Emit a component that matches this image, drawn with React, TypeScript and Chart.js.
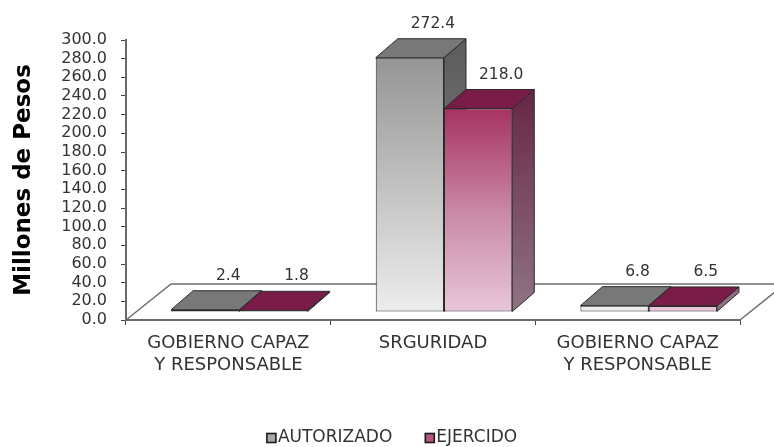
import React, { useEffect, useRef } from 'react';
import { Chart, registerables } from 'chart.js';

Chart.register(...registerables);

// ---------- data ----------
const categories: (string | string[])[] = [
  ['GOBIERNO CAPAZ', 'Y RESPONSABLE'],
  'SRGURIDAD',
  ['GOBIERNO CAPAZ', 'Y RESPONSABLE'],
];
const seriesNames = ['AUTORIZADO', 'EJERCIDO'];
const autorizado = [2.4, 272.4, 6.8];
const ejercido = [1.8, 218.0, 6.5];
const yMin = 0;
const yMax = 300;
const yStep = 20;
const yTitle = 'Millones de Pesos';

// ---------- styles ----------
const FONT = "'DejaVu Sans', sans-serif";
const TEXT = '#333333';
const SHIFT = { x: 11, y: -8 }; // bars set back on the floor
const DEPTH = { x: 22, y: -19 }; // bar depth
const FLOOR = { x: 45, y: -36 }; // floor depth
const LABEL_DX = 23;
const LABEL_DY = -15;

type Pal = { front: [number, string][]; side: [string, string]; top: string; legend: string };
const palettes: Pal[] = [
  {
    front: [[0, '#8c8c8c'], [1, '#ededed']],
    side: ['#5a5a5a', '#8e8e8e'],
    top: '#787878',
    legend: '#a8a8a8',
  },
  {
    front: [[0, '#951c4e'], [0.28, '#a83464'], [0.65, '#c98aa8'], [1, '#e9c6da']],
    side: ['#5c1236', '#8f7484'],
    top: '#7a1c48',
    legend: '#b4567f',
  },
];

function vGrad(chart: Chart, stops: [number, string][]) {
  const a = chart.chartArea;
  const g = chart.ctx.createLinearGradient(0, a.top, 0, a.bottom);
  stops.forEach(([o, c]) => g.addColorStop(o, c));
  return g;
}

const threeD = {
  id: 'threeD',
  beforeDatasetsDraw(chart: any) {
    const ctx: CanvasRenderingContext2D = chart.ctx;
    const y0 = chart.scales.y.getPixelForValue(0);
    const { left, right } = chart.chartArea;
    // floor outline
    ctx.save();
    ctx.beginPath();
    ctx.moveTo(left, y0);
    ctx.lineTo(left + FLOOR.x, y0 + FLOOR.y);
    ctx.lineTo(right + FLOOR.x, y0 + FLOOR.y);
    ctx.lineTo(right, y0);
    ctx.strokeStyle = '#707070';
    ctx.lineWidth = 1.6;
    ctx.stroke();
    ctx.restore();

    ctx.save();
    ctx.translate(SHIFT.x, SHIFT.y);
    chart.data.datasets.forEach((_ds: any, di: number) => {
      const meta = chart.getDatasetMeta(di);
      const pal = palettes[di];
      meta.data.forEach((bar: any) => {
        const { x, y, base, width } = bar.getProps(['x', 'y', 'base', 'width'], true);
        const l = x - width / 2;
        const r = x + width / 2;
        ctx.lineWidth = 1;
        ctx.strokeStyle = '#2a2a2a';
        ctx.lineJoin = 'round';
        // side
        const sg = ctx.createLinearGradient(0, chart.chartArea.top, 0, chart.chartArea.bottom);
        sg.addColorStop(0, pal.side[0]);
        sg.addColorStop(1, pal.side[1]);
        ctx.beginPath();
        ctx.moveTo(r, y);
        ctx.lineTo(r + DEPTH.x, y + DEPTH.y);
        ctx.lineTo(r + DEPTH.x, base + DEPTH.y);
        ctx.lineTo(r, base);
        ctx.closePath();
        ctx.fillStyle = sg;
        ctx.fill();
        ctx.stroke();
        // top
        ctx.beginPath();
        ctx.moveTo(l, y);
        ctx.lineTo(r, y);
        ctx.lineTo(r + DEPTH.x, y + DEPTH.y);
        ctx.lineTo(l + DEPTH.x, y + DEPTH.y);
        ctx.closePath();
        ctx.fillStyle = pal.top;
        ctx.fill();
        ctx.stroke();
      });
    });
    // keep translation while the library draws the front faces
  },
  afterDatasetsDraw(chart: any) {
    const ctx: CanvasRenderingContext2D = chart.ctx;
    ctx.restore();
    ctx.save();
    ctx.font = `15.5px ${FONT}`;
    ctx.fillStyle = TEXT;
    ctx.textAlign = 'center';
    ctx.textBaseline = 'middle';
    chart.data.datasets.forEach((ds: any, di: number) => {
      const meta = chart.getDatasetMeta(di);
      meta.data.forEach((bar: any, i: number) => {
        const { x, y } = bar.getProps(['x', 'y'], true);
        ctx.fillText(
          Number(ds.data[i]).toFixed(1),
          x + SHIFT.x + LABEL_DX,
          y + SHIFT.y + DEPTH.y + LABEL_DY
        );
      });
    });
    ctx.restore();
  },
  afterDraw(chart: any) {
    // legend
    const ctx: CanvasRenderingContext2D = chart.ctx;
    ctx.save();
    ctx.font = `17px ${FONT}`;
    ctx.textBaseline = 'middle';
    ctx.textAlign = 'left';
    const box = 9;
    const gap = 2;
    const between = 33;
    const items = chart.data.datasets.map((ds: any) => ds.label as string);
    const widths = items.map((t: string) => box + gap + ctx.measureText(t).width);
    const total = widths.reduce((a: number, b: number) => a + b, 0) + between * (items.length - 1);
    let x = (chart.width - total) / 2 + 5;
    const cy = 438;
    items.forEach((t: string, i: number) => {
      ctx.fillStyle = palettes[i].legend;
      ctx.fillRect(x, cy - box / 2, box, box);
      ctx.lineWidth = 1.6;
      ctx.strokeStyle = '#1a1a1a';
      ctx.strokeRect(x, cy - box / 2, box, box);
      ctx.fillStyle = TEXT;
      ctx.fillText(t, x + box + gap, cy);
      x += widths[i] + between;
    });
    ctx.restore();
  },
};

export default function App() {
  const ref = useRef<HTMLCanvasElement>(null);
  useEffect(() => {
    if (!ref.current) return;
    Chart.defaults.font.family = FONT;
    const chart = new Chart(ref.current, {
      type: 'bar',
      data: {
        labels: categories,
        datasets: [
          {
            label: seriesNames[0],
            data: autorizado,
            backgroundColor: (c: any) => (c.chart.chartArea ? vGrad(c.chart, palettes[0].front) : '#bbb'),
            borderColor: '#2a2a2a',
            borderWidth: 1,
            borderSkipped: false,
            clip: false as any,
          },
          {
            label: seriesNames[1],
            data: ejercido,
            backgroundColor: (c: any) => (c.chart.chartArea ? vGrad(c.chart, palettes[1].front) : '#b5577f'),
            borderColor: '#2a2a2a',
            borderWidth: 1,
            borderSkipped: false,
            clip: false as any,
          },
        ],
      },
      options: {
        responsive: false,
        devicePixelRatio: 1,
        animation: false,
        layout: { padding: { left: 0, right: 34, top: 40, bottom: 0 } },
        datasets: { bar: { barPercentage: 1, categoryPercentage: 0.667 } },
        plugins: {
          legend: { display: false },
          tooltip: { enabled: false },
        },
        scales: {
          x: {
            grid: { display: true, drawOnChartArea: false, drawTicks: true, tickLength: 5, color: '#444', offset: true },
            border: { display: true, color: '#6a6a6a', width: 2 },
            ticks: {
              color: TEXT,
              font: { size: 18, lineHeight: 1.25 },
              padding: 7,
              maxRotation: 0,
              autoSkip: false,
            },
            afterFit: (s: any) => {
              s.height = 127;
            },
          },
          y: {
            min: yMin,
            max: yMax,
            grid: { display: true, drawOnChartArea: false, drawTicks: true, tickLength: 5, color: '#444' },
            border: { display: true, color: '#6a6a6a', width: 2 },
            ticks: {
              stepSize: yStep,
              autoSkip: false,
              color: TEXT,
              font: { size: 16, lineHeight: 1 },
              padding: 14,
              callback: (v: any) => Number(v).toFixed(1),
            },
            title: {
              display: true,
              text: yTitle,
              color: '#000',
              font: { size: 23, weight: 'bold' },
              padding: { top: 10, bottom: 0 },
            },
            afterFit: (s: any) => {
              s.width = 126;
            },
          },
        },
      },
      plugins: [threeD],
    });
    return () => chart.destroy();
  }, []);
  return (
    <div style={{ position: 'absolute', left: 0, top: 0, width: 774, height: 447, background: '#fff' }}>
      <canvas ref={ref} width={774} height={447} style={{ display: 'block' }} />
    </div>
  );
}
